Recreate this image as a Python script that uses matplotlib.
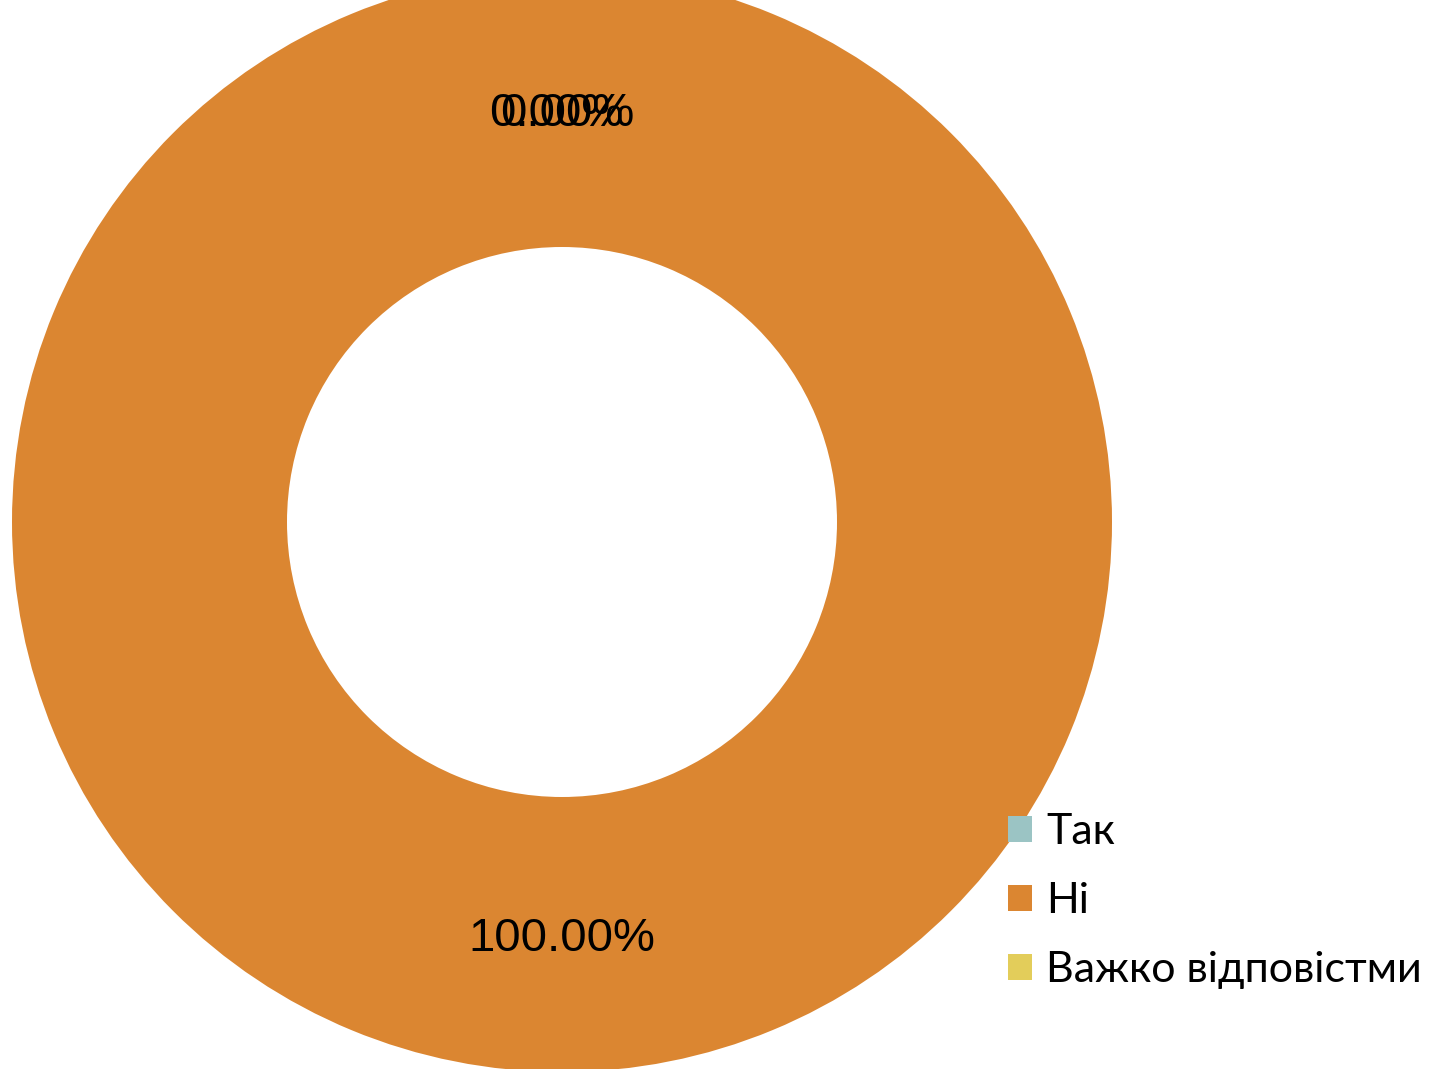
import numpy as np
import matplotlib.pyplot as plt

# Дані діаграми
categories = ["Так", "Ні", "Важко відповістми"]
values = [0.0, 100.0, 0.0]
colors = ["#9BC4C4", "#DB8631", "#E3CD5A"]

W, H = 1431, 1069
cx, cy, R = 562, 522, 550  # центр і радіус кільця в пікселях

fig = plt.figure(figsize=(W / 100, H / 100), dpi=100)
ax = fig.add_axes([0, 0, 1, 1])

wedges, _ = ax.pie(values, colors=colors, startangle=90, counterclock=False,
                   radius=1.0, wedgeprops=dict(width=0.5, linewidth=0))

# pie сам ставить межі, тому задаємо їх після нього
ax.set_xlim(-cx / R, (W - cx) / R)
ax.set_ylim(-(H - cy) / R, cy / R)
ax.set_aspect("equal")
ax.axis("off")

# підписи відсотків посередині кільця
offsets = [-0.01, 0.0, 0.01]
for w, v, dx in zip(wedges, values, offsets):
    ang = (w.theta1 + w.theta2) / 2 if v < 100 else 270
    x = 0.75 * np.cos(np.deg2rad(ang)) + dx
    y = 0.75 * np.sin(np.deg2rad(ang)) - 0.009
    ax.text(x, y, f"{v:.2f}%", ha="center", va="center", fontsize=34,
            family="Liberation Sans", color="black")

leg = ax.legend(wedges, categories, loc="upper left", bbox_to_anchor=(1008 / W, 1 - 813 / H),
                bbox_transform=fig.transFigure, frameon=False,
                prop={"family": "Lato", "size": 31},
                borderpad=0, borderaxespad=0,
                handlelength=0.55, handleheight=0.55, handletextpad=0.33, labelspacing=0.72)

fig.savefig("out.png", dpi=100)
